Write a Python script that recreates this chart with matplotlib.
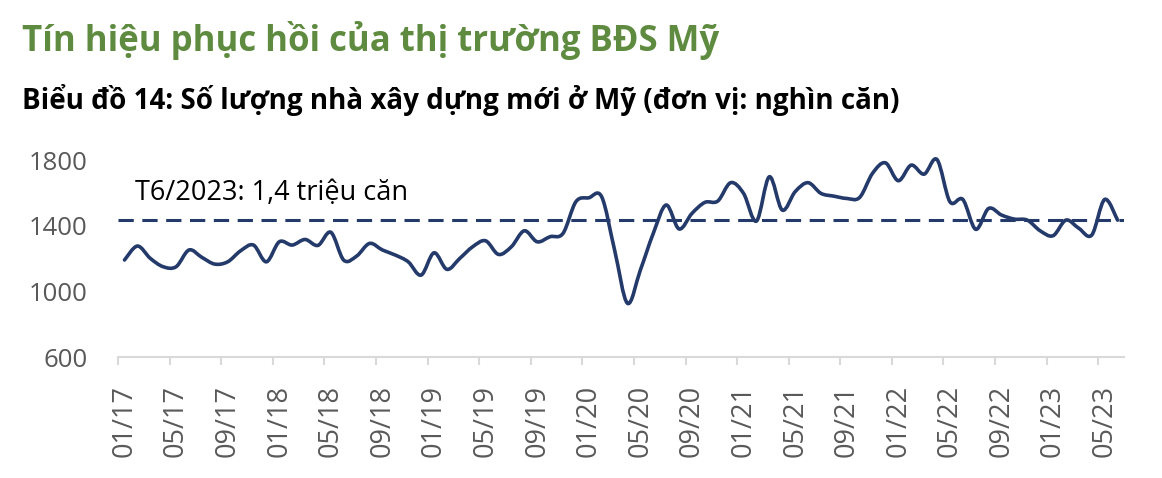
import numpy as np
import matplotlib
matplotlib.use("Agg")
import matplotlib.pyplot as plt
from matplotlib.path import Path
from matplotlib.patches import PathPatch

plt.rcParams["font.family"] = ["Open Sans", "DejaVu Sans"]

# ==============================
# Số liệu: nhà khởi công mới ở Mỹ (nghìn căn), 01/2017 - 06/2023
# ==============================
housing_starts = [
    1191, 1276, 1201, 1150, 1150, 1252, 1207, 1166, 1180, 1247, 1282, 1180,  # 2017
    1302, 1282, 1316, 1280, 1360, 1190, 1215, 1292, 1252, 1221, 1180, 1099,  # 2018
    1235, 1134, 1201, 1272, 1308, 1225, 1272, 1369, 1302, 1333, 1353, 1546,  # 2019
    1570, 1576, 1252, 927, 1130, 1353, 1526, 1380, 1475, 1542, 1550, 1662,   # 2020
    1597, 1428, 1698, 1495, 1607, 1662, 1597, 1580, 1566, 1572, 1719, 1783,  # 2021
    1674, 1769, 1714, 1803, 1546, 1560, 1378, 1505, 1465, 1440, 1434, 1369,  # 2022
    1339, 1434, 1384, 1343, 1560, 1434,                                      # 2023
]
tick_labels = ["01/17", "05/17", "09/17", "01/18", "05/18", "09/18", "01/19",
               "05/19", "09/19", "01/20", "05/20", "09/20", "01/21", "05/21",
               "09/21", "01/22", "05/22", "09/22", "01/23", "05/23"]
y_ticks = [600, 1000, 1400, 1800]
ref_value = 1434
ref_text = "T6/2023: 1,4 triệu căn"

title = "Tín hiệu phục hồi của thị trường BĐS Mỹ"
subtitle = "Biểu đồ 14: Số lượng nhà xây dựng mới ở Mỹ (đơn vị: nghìn căn)"

NAVY = "#243A6B"
GREEN = "#5E8B3F"
GRAY_TXT = "#595959"
GRAY_AX = "#D9D9D9"

# ==============================
# Vẽ
# ==============================
fig = plt.figure(figsize=(11.62, 4.78), dpi=100)
ax = fig.add_axes([0.1016, 0.2531, 0.8657, 0.4121])

x = np.arange(len(housing_starts))
y = np.array(housing_starts, dtype=float)
n = len(x)

# đường làm mượt kiểu Excel (bezier bậc 3 qua từng điểm)
verts = [(x[0], y[0])]
codes = [Path.MOVETO]
for i in range(n - 1):
    a = max(i - 1, 0)
    b = min(i + 2, n - 1)
    c1 = (x[i] + (x[i + 1] - x[a]) / 6, y[i] + (y[i + 1] - y[a]) / 6)
    c2 = (x[i + 1] - (x[b] - x[i]) / 6, y[i + 1] - (y[b] - y[i]) / 6)
    verts += [c1, c2, (x[i + 1], y[i + 1])]
    codes += [Path.CURVE4] * 3
ax.add_patch(PathPatch(Path(verts, codes), facecolor="none", edgecolor=NAVY,
                       lw=2.6, capstyle="round", joinstyle="round", clip_on=False))

ax.axhline(ref_value, color=NAVY, lw=2.2, dashes=(5, 2.8))
ax.text(0.82, 1600, ref_text, fontsize=19.5, color="black", va="center", ha="left")

ax.set_xlim(-0.5, n - 0.5)
ax.set_ylim(y_ticks[0], y_ticks[-1])

ax.set_xticks(x[::4])
ax.set_xticklabels(tick_labels, rotation=90, fontsize=19.5, color=GRAY_TXT)
ax.set_xticks(x[::4] - 0.5, minor=True)
ax.tick_params(axis="x", which="major", length=0, pad=20)
ax.tick_params(axis="x", which="minor", length=6, width=1.5, color=GRAY_AX)

ax.set_yticks(y_ticks)
ax.set_yticklabels([str(v) for v in y_ticks], fontsize=18.5, color=GRAY_TXT)
ax.tick_params(axis="y", length=0, pad=22)

for side in ["left", "right", "top"]:
    ax.spines[side].set_visible(False)
ax.spines["bottom"].set_color(GRAY_AX)
ax.spines["bottom"].set_linewidth(1.5)

fig.text(22 / 1162, 1 - 40 / 478, title, fontsize=25, fontweight="bold",
         color=GREEN, va="center", ha="left")
fig.text(22 / 1162, 1 - 100 / 478, subtitle, fontsize=20, fontweight="bold",
         color="black", va="center", ha="left")

fig.savefig("out.png", dpi=100)
